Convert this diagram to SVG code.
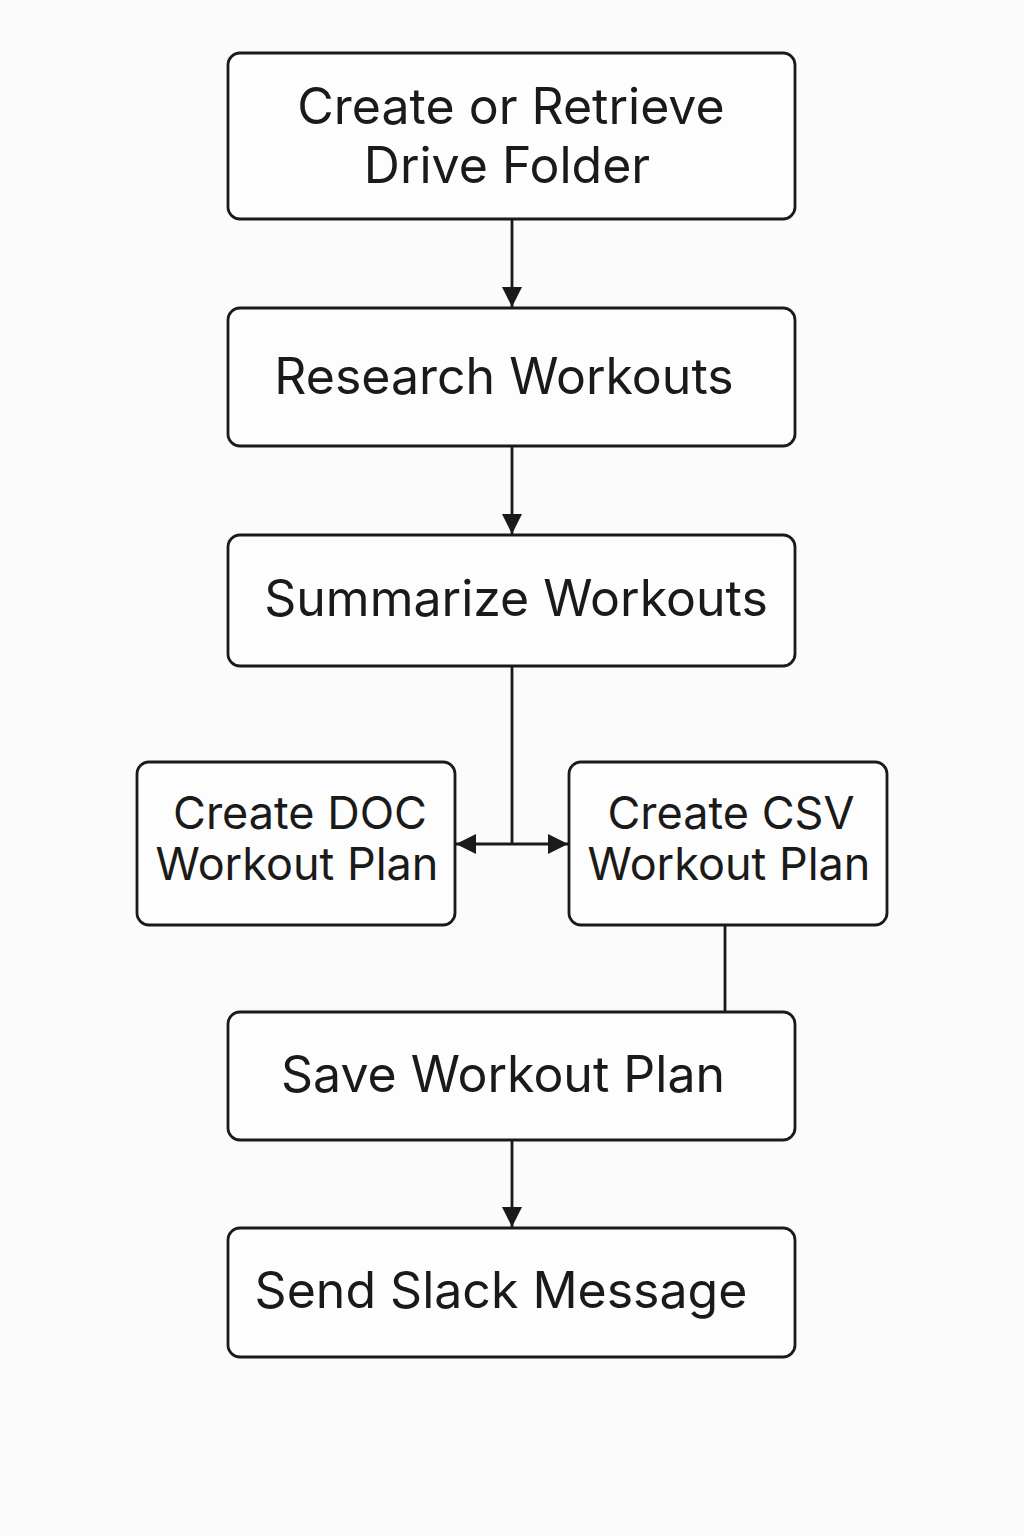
<svg xmlns="http://www.w3.org/2000/svg" width="1024" height="1536" viewBox="0 0 1024 1536">
<style>
.box{fill:#fdfdfd;stroke:#1a1a1a;stroke-width:2.8}
.t{font-family:Inter,"Noto Sans",sans-serif;font-size:50px;fill:#1a1a1a;text-anchor:middle}
.s{font-size:45px}
.c{fill:none;stroke:#1a1a1a;stroke-width:2.8}
</style>
<defs>
<marker id="a" viewBox="0 0 20 20" refX="20" refY="10" markerWidth="20" markerHeight="20" markerUnits="userSpaceOnUse" orient="auto">
<path d="M0,0 L20,10 L0,20 Z" fill="#1a1a1a"/>
</marker>
</defs>
<rect width="1024" height="1536" fill="#fbfbfb"/>
<g id="connectors">
<line class="c" x1="512" y1="219" x2="512" y2="307" marker-end="url(#a)"/>
<line class="c" x1="512" y1="446" x2="512" y2="534" marker-end="url(#a)"/>
<line class="c" x1="512" y1="666" x2="512" y2="844"/>
<line class="c" x1="512" y1="844" x2="456" y2="844" marker-end="url(#a)"/>
<line class="c" x1="512" y1="844" x2="568" y2="844" marker-end="url(#a)"/>
<line class="c" x1="725" y1="925" x2="725" y2="1012"/>
<line class="c" x1="512" y1="1140" x2="512" y2="1227" marker-end="url(#a)"/>
</g>
<g id="n1"><rect class="box" x="228" y="53" width="567" height="166" rx="12"/>
<text class="t" x="511" y="124">Create or Retrieve</text><text class="t" x="507" y="183">Drive Folder</text></g>
<g id="n2"><rect class="box" x="228" y="308" width="567" height="138" rx="12"/>
<text class="t" x="504" y="394">Research Workouts</text></g>
<g id="n3"><rect class="box" x="228" y="535" width="567" height="131" rx="12"/>
<text class="t" x="516" y="616">Summarize Workouts</text></g>
<g id="n4"><rect class="box" x="137" y="762" width="318" height="163" rx="12"/>
<text class="t s" x="300" y="829">Create DOC</text><text class="t s" x="297" y="880">Workout Plan</text></g>
<g id="n5"><rect class="box" x="569" y="762" width="318" height="163" rx="12"/>
<text class="t s" x="731" y="829">Create CSV</text><text class="t s" x="729" y="880">Workout Plan</text></g>
<g id="n6"><rect class="box" x="228" y="1012" width="567" height="128" rx="12"/>
<text class="t" x="503" y="1092">Save Workout Plan</text></g>
<g id="n7"><rect class="box" x="228" y="1228" width="567" height="129" rx="12"/>
<text class="t" x="501" y="1308">Send Slack Message</text></g>
</svg>
